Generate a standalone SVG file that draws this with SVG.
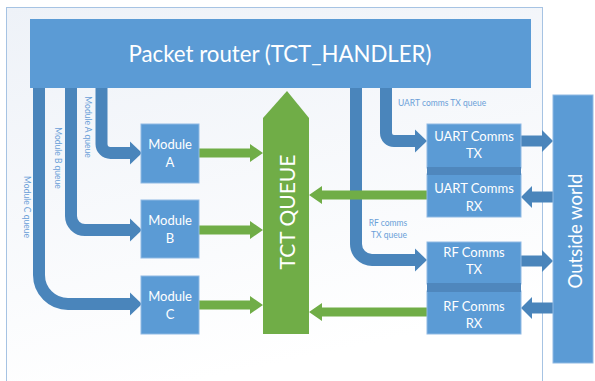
<svg xmlns="http://www.w3.org/2000/svg" width="595" height="381" viewBox="0 0 595 381">
<style>
.box{fill:#5b9bd5;stroke:#8fb9e3;stroke-width:1}
.pipe{fill:none;stroke:#4a85bb;stroke-width:12}
.bhead{fill:#4a85bb}
.green{fill:#70ad47}
.t{font-family:Lato,"Liberation Sans",sans-serif;fill:#ffffff;text-anchor:middle}
.m{font-size:13px}
.s{font-family:Lato,"Liberation Sans",sans-serif;fill:#6a9fd8;font-size:8.5px}
</style>
<defs>
<linearGradient id="bg" x1="0" y1="0" x2="0.3" y2="1">
<stop offset="0" stop-color="#eef2f8"/>
<stop offset="1" stop-color="#ffffff"/>
</linearGradient>
</defs>
<rect x="0" y="0" width="595" height="381" fill="#ffffff"/>
<rect x="6.5" y="7.5" width="536" height="380" fill="url(#bg)" stroke="#a6c3e3" stroke-width="1"/>

<g id="router">
<rect x="30" y="19" width="501" height="69" fill="#5b9bd5"/>
<text class="t" x="280" y="62" font-size="23" textLength="303" lengthAdjust="spacingAndGlyphs">Packet router (TCT_HANDLER)</text>
</g>

<g id="connectors">
<path class="pipe" d="M101.5,88 V144 A9,9 0 0 0 110.5,153 H131"/>
<polygon class="bhead" points="130,141.5 142,153 130,164.5"/>
<path class="pipe" d="M71,88 V216 A14,14 0 0 0 85,230 H131"/>
<polygon class="bhead" points="130,218.5 142,230 130,241.5"/>
<path class="pipe" d="M39,88 V275 A29,29 0 0 0 68,304 H131"/>
<polygon class="bhead" points="130,292.5 142,304 130,315.5"/>
<path class="pipe" d="M386,88 V133 A8,8 0 0 0 394,141 H416"/>
<polygon class="bhead" points="415,129.5 427,141 415,152.5"/>
<path class="pipe" d="M356,88 V244 A16,16 0 0 0 372,260 H416"/>
<polygon class="bhead" points="415,248.5 427,260 415,271.5"/>

<rect class="bhead" x="521" y="135.5" width="22" height="11"/>
<polygon class="bhead" points="542,130 553,141 542,152"/>
<rect class="bhead" x="521" y="255.5" width="22" height="11"/>
<polygon class="bhead" points="542,250 553,261 542,272"/>
<rect class="bhead" x="531" y="191.5" width="22" height="11"/>
<polygon class="bhead" points="532,186 521,197 532,208"/>
<rect class="bhead" x="531" y="302.5" width="22" height="11"/>
<polygon class="bhead" points="532,297 521,308 532,319"/>

<polygon class="green" points="199,148.5 250,148.5 250,144 263,153 250,162 250,157.5 199,157.5"/>
<polygon class="green" points="199,225.5 250,225.5 250,221 263,230 250,239 250,234.5 199,234.5"/>
<polygon class="green" points="199,300.5 250,300.5 250,296 263,305 250,314 250,309.5 199,309.5"/>
<polygon class="green" points="427,190.5 322,190.5 322,186 309,195 322,204 322,199.5 427,199.5"/>
<polygon class="green" points="427,307.5 322,307.5 322,303 309,312 322,321 322,316.5 427,316.5"/>
</g>

<g id="moduleA">
<rect class="box" x="141" y="124" width="58" height="59"/>
<text class="t m" x="170" y="149">Module</text>
<text class="t m" x="170" y="167">A</text>
</g>
<g id="moduleB">
<rect class="box" x="141" y="200" width="58" height="58"/>
<text class="t m" x="170" y="225">Module</text>
<text class="t m" x="170" y="243">B</text>
</g>
<g id="moduleC">
<rect class="box" x="141" y="276" width="58" height="58"/>
<text class="t m" x="170" y="301">Module</text>
<text class="t m" x="170" y="319">C</text>
</g>

<g id="tctqueue">
<polygon class="green" points="263,118 287,91 309,118 309,334 263,334"/>
<text class="t" transform="translate(295,212) rotate(-90)" font-size="21">TCT QUEUE</text>
</g>

<g id="uarttx">
<rect class="box" x="427" y="124" width="94" height="44"/>
<text class="t m" x="474" y="141">UART Comms</text>
<text class="t m" x="474" y="158">TX</text>
</g>
<g id="uartrx">
<rect class="box" x="427" y="174" width="94" height="43"/>
<text class="t m" x="474" y="193">UART Comms</text>
<text class="t m" x="474" y="211">RX</text>
</g>
<rect x="427" y="167" width="94" height="8" fill="#4f87bd"/>
<g id="rftx">
<rect class="box" x="427" y="242" width="94" height="42"/>
<text class="t m" x="474" y="257">RF Comms</text>
<text class="t m" x="474" y="274">TX</text>
</g>
<g id="rfrx">
<rect class="box" x="427" y="291" width="94" height="43"/>
<text class="t m" x="474" y="311">RF Comms</text>
<text class="t m" x="474" y="328">RX</text>
</g>
<rect x="427" y="283" width="94" height="9" fill="#4f87bd"/>

<g id="outside">
<rect x="553" y="95" width="40" height="268" fill="#5b9bd5" stroke="#8fb9e3" stroke-width="1"/>
<text class="t" transform="translate(582,231) rotate(-90)" font-size="18.5">Outside world</text>
</g>

<g id="labels">
<text class="s" transform="translate(85,127) rotate(90)" text-anchor="middle">Module A queue</text>
<text class="s" transform="translate(55,158) rotate(90)" text-anchor="middle">Module B queue</text>
<text class="s" transform="translate(24,207) rotate(90)" text-anchor="middle">Module C queue</text>
<text class="s" x="398" y="106">UART comms TX queue</text>
<text class="s" x="388" y="226" text-anchor="middle">RF comms</text>
<text class="s" x="389" y="238" text-anchor="middle">TX queue</text>
</g>
</svg>
